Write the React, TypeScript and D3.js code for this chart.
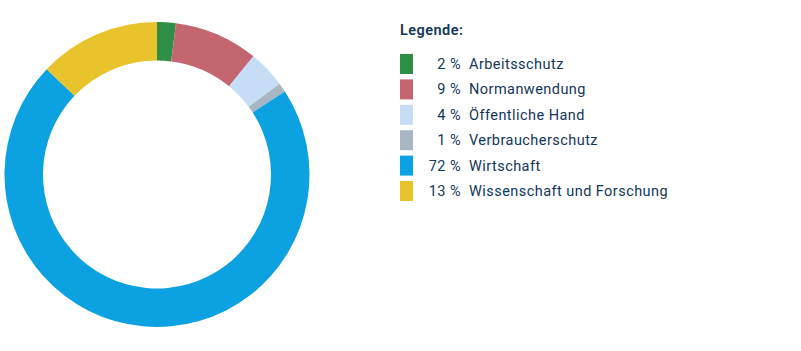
import React from "react";
import * as d3 from "d3";

const categories = [
  "Arbeitsschutz",
  "Normanwendung",
  "Öffentliche Hand",
  "Verbraucherschutz",
  "Wirtschaft",
  "Wissenschaft und Forschung",
];
const values = [2, 9, 4, 1, 72, 13];
const colors = ["#2f8e46", "#c4666f", "#c5def6", "#a9b7c5", "#0ca2e2", "#e9c32b"];

export default function App() {
  const width = 801,
    height = 351;
  const cx = 157,
    cy = 174.5;
  const outer = 152.5,
    inner = 114;

  const pie = d3
    .pie<number>()
    .sort(null)
    .value((d) => d);
  const arcs = pie(values);
  const arc = d3.arc<d3.PieArcDatum<number>>().innerRadius(inner).outerRadius(outer);

  const rowY = d3.scaleLinear().domain([0, 1]).range([64, 89.4]);

  return (
    <svg
      width={width}
      height={height}
      style={{ position: "absolute", left: 0, top: 0, background: "#fff" }}
    >
      <g transform={`translate(${cx},${cy})`}>
        {arcs.map((a, i) => (
          <path key={i} d={arc(a) || ""} fill={colors[i]} />
        ))}
      </g>
      <g fontFamily="Roboto, sans-serif" fill="#12375a" letterSpacing={0.45}>
        <text x={400} y={35} fontSize={14.5} fontWeight={600}>
          Legende:
        </text>
        {categories.map((c, i) => (
          <g key={c} transform={`translate(0,${rowY(i)})`}>
            <rect x={400} y={-10} width={13} height={20} fill={colors[i]} />
            <text x={461} y={5} fontSize={14.5} textAnchor="end">
              {values[i]} %
            </text>
            <text x={469} y={5} fontSize={14.5}>
              {c}
            </text>
          </g>
        ))}
      </g>
    </svg>
  );
}
